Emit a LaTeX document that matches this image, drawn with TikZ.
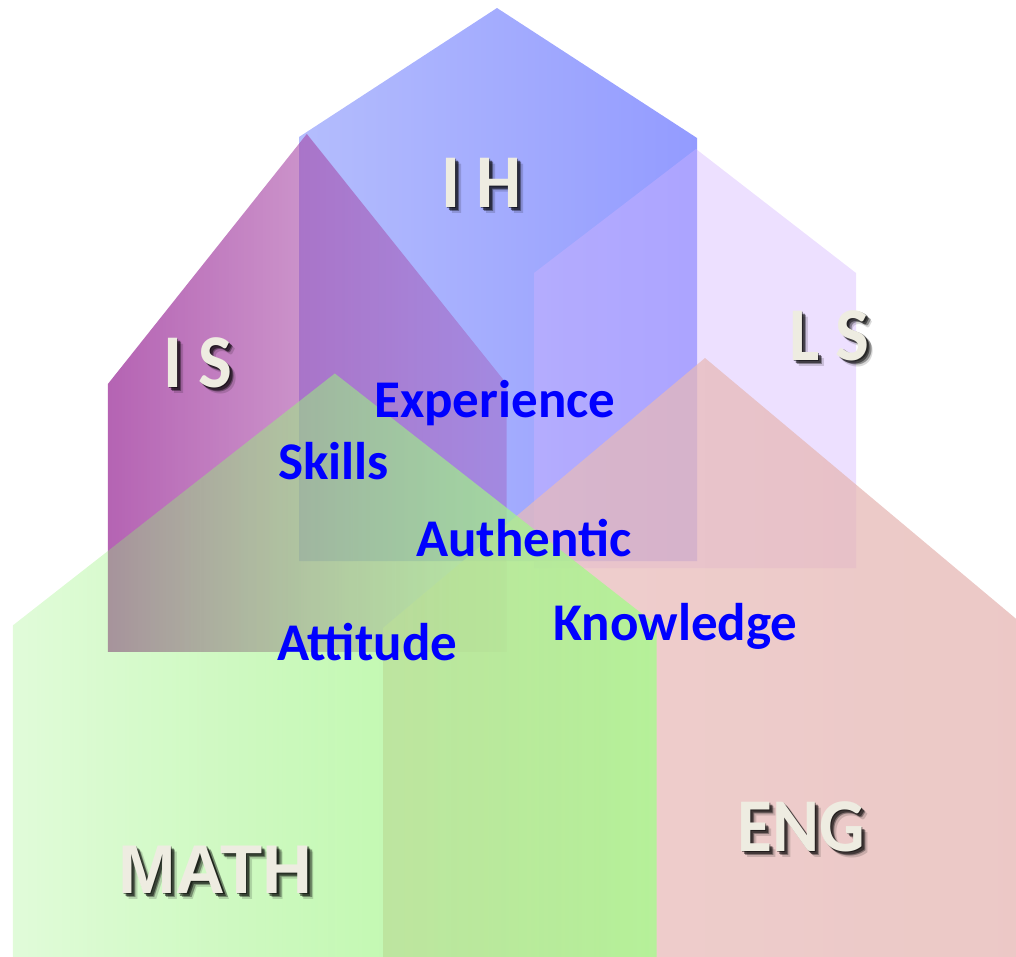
\documentclass[tikz,border=0pt]{standalone}
\usepackage{fontspec}
\usepackage{graphicx}
\setmainfont{Carlito}
\newfontfamily\arialfont{Liberation Sans}
\usetikzlibrary{fadings}
\definecolor{ihL}{RGB}{180,189,253}
\definecolor{ihR}{RGB}{147,155,255}
\definecolor{isC}{RGB}{162,60,160}
\definecolor{lsC}{RGB}{210,178,255}
\definecolor{engL}{RGB}{233,190,189}
\definecolor{engR}{RGB}{228,179,176}
\definecolor{mathL}{RGB}{135,240,105}
\definecolor{mathR}{RGB}{172,247,145}
\definecolor{lbl}{RGB}{238,236,225}
\tikzfading[name=isfade, left color=transparent!20, right color=transparent!70]
\tikzfading[name=mathfade, left color=transparent!75, right color=transparent!15]
\tikzset{
  lab/.style={font=\fontsize{76}{80}\selectfont\bfseries, text=lbl, inner sep=0pt, anchor=base west},
  labshadow/.style={lab, text=black, text opacity=#1},
  word/.style={font=\fontsize{53}{60}\selectfont\bfseries, text=blue, inner sep=0pt, anchor=base west},
}
\newcommand{\shlabel}[4]{%
  \node[labshadow=0.45] (#1s1) at (#2+1.5,#3+1.5) {#4};
  \node[labshadow=0.50] (#1s2) at (#2+3,#3+3) {#4};
  \node[labshadow=0.35] (#1s3) at (#2+4.5,#3+4.5) {#4};
  \node[labshadow=0.15] (#1s4) at (#2+6,#3+6) {#4};
  \node[lab] (#1) at (#2,#3) {#4};
}
\newcommand{\cond}[1]{\scalebox{0.94}[1]{#1}}
\begin{document}
\begin{tikzpicture}[x=1pt,y=-1pt]
\useasboundingbox (0,0) rectangle (1016,956);
\begin{scope}
\clip (0,0) rectangle (1016,956);
% IH
\shade[left color=ihL, right color=ihR]
  (299,137) -- (497,8) -- (697,138) -- (697,561) -- (299,561) -- cycle;
% IS
\fill[isC, path fading=isfade, fit fading=true]
  (108,384) -- (307,134) -- (507,384) -- (507,652) -- (108,652) -- cycle;
% LS
\fill[lsC, fill opacity=0.4]
  (534,273) -- (696,149) -- (856,273) -- (856,568) -- (534,568) -- cycle;
% ENG
\shade[left color=engL, right color=engR, fill opacity=0.72]
  (383,628) -- (705,358) -- (1027,628) -- (1027,960) -- (383,960) -- cycle;
% MATH
\shade[left color=mathL, right color=mathR, path fading=mathfade, fit fading=true]
  (13,625) -- (335,373) -- (657,625) -- (657,960) -- (13,960) -- cycle;
\end{scope}
% labels
\shlabel{IH}{441}{207}{\cond{I H}}
\shlabel{IS}{163}{387}{\cond{I S}}
\shlabel{LS}{789}{360}{\cond{L S}}
\shlabel{ENG}{737}{851}{\cond{ENG}}
\shlabel{MATH}{118}{893}{\arialfont\fontsize{69}{72}\selectfont\bfseries MATH}
% words
\node[word] (exp) at (374,417) {Experience};
\node[word] (skl) at (278,479) {Skills};
\node[word] (aut) at (416,556) {Authentic};
\node[word] (att) at (277,660) {Attitude};
\node[word] (kno) at (553,640) {Knowledge};
\end{tikzpicture}
\end{document}
